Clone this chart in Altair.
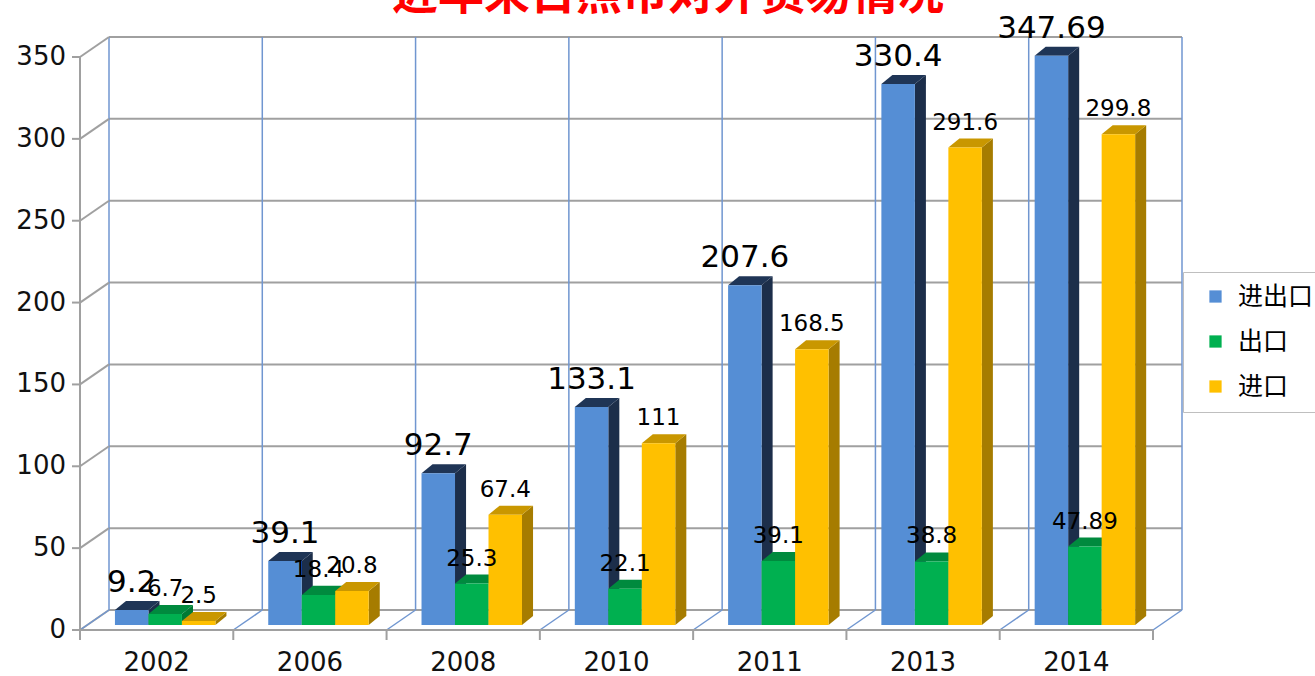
import altair as alt
import pandas as pd

# ---------------- data ----------------
years = ["2002", "2006", "2008", "2010", "2011", "2013", "2014"]
total = [9.2, 39.1, 92.7, 133.1, 207.6, 330.4, 347.69]      # 进出口
exports = [6.7, 18.4, 25.3, 22.1, 39.1, 38.8, 47.89]         # 出口
imports = [2.5, 20.8, 67.4, 111, 168.5, 291.6, 299.8]        # 进口
series_names = ["进出口", "出口", "进口"]
y_ticks = [0, 50, 100, 150, 200, 250, 300, 350]
title_text = "近年来日照市对外贸易情况"

# ---------------- style ----------------
front_colors = ["#558ed5", "#00b050", "#ffc000"]
top_colors = ["#1f3556", "#008a3e", "#c99700"]
side_colors = ["#1c2e4a", "#007a35", "#a67c00"]
GRID = "#a0a0a0"
BLUE_LINE = "#7096d0"
NUM_FONT = "DejaVu Sans"
CJK_FONT = "Noto Sans CJK SC"

N = len(years)
Y_MAX = 350
BAR_START = 0.228   # bar cluster start inside a category band (band units)
BAR_W = 0.2185      # bar width (band units)
DEPTH_X = 0.072     # 3D depth of bars, x (band units)
DEPTH_Y = 5.5       # 3D depth of bars, y (value units)
WALL_DX = 29        # wall depth in pixels
WALL_DY = -15
FRONT_DY = 5

xscale = alt.Scale(domain=[0, N], nice=False, zero=False)
yscale = alt.Scale(domain=[0, Y_MAX], nice=False, zero=False)

values_by_series = [total, exports, imports]

X = lambda f: alt.X(f, scale=xscale, axis=None)
Y = lambda f: alt.Y(f, scale=yscale, axis=None)

# ---------------- bar faces ----------------
front_rows, side_rows, top_rows, labels = [], [], [], []
g = 0
for i in range(N):
    for s in range(3):
        v = values_by_series[s][i]
        x0 = i + BAR_START + s * BAR_W
        x1 = x0 + BAR_W
        front_rows.append(dict(x0=x0, x1=x1, v=v, base=0, fill=front_colors[s]))
        for p, (x, y, y2) in enumerate([(x1, v, 0), (x1 + DEPTH_X, v + DEPTH_Y, DEPTH_Y)]):
            side_rows.append(dict(gid=f"g{g:04d}", pt=p, x=x, y=y, y2=y2, fill=side_colors[s]))
        for p, (x, y, y2) in enumerate([(x0, v, v), (x0 + DEPTH_X, v + DEPTH_Y, v),
                                        (x1, v + DEPTH_Y, v), (x1 + DEPTH_X, v + DEPTH_Y, v + DEPTH_Y)]):
            top_rows.append(dict(gid=f"g{g:04d}", pt=p, x=x, y=y, y2=y2, fill=top_colors[s]))
        g += 1
        labels.append(dict(x=(x0 + x1) / 2, y=v, t=f"{v:g}", fs=31 if s == 0 else 23))


def face_layer(rows):
    return alt.Chart(pd.DataFrame(rows)).mark_area(strokeWidth=0).encode(
        x=X("x:Q"),
        y=alt.Y("y:Q", scale=yscale, axis=None, stack=False),
        y2="y2:Q",
        fill=alt.Fill("fill:N", scale=None),
        detail="gid:N",
    )


sides = face_layer(side_rows)
tops = face_layer(top_rows)
fronts = alt.Chart(pd.DataFrame(front_rows)).mark_rect(strokeWidth=0).encode(
    x=X("x0:Q"), x2="x1:Q", y=Y("v:Q"), y2="base:Q",
    fill=alt.Fill("fill:N", scale=None),
)

value_labels = alt.Chart(pd.DataFrame(labels)).mark_text(
    font=NUM_FONT, color="black", align="center", baseline="alphabetic", yOffset=-18
).encode(
    x=X("x:Q"), y=Y("y:Q"), text="t:N",
    size=alt.Size("fs:Q", scale=None),
)

# ---------------- frame / walls ----------------
div_df = pd.DataFrame({"k": list(range(N + 1)), "zero": 0, "top": Y_MAX})
grid_df = pd.DataFrame({"v": y_ticks, "x0": 0, "x1": N})

back_grid = alt.Chart(grid_df).mark_rule(
    color=GRID, strokeWidth=2, xOffset=WALL_DX, x2Offset=WALL_DX, yOffset=WALL_DY
).encode(x=X("x0:Q"), x2="x1:Q", y=Y("v:Q"))

left_diag = alt.Chart(grid_df).mark_rule(
    color=GRID, strokeWidth=2, xOffset=0, x2Offset=WALL_DX, yOffset=FRONT_DY, y2Offset=WALL_DY
).encode(x=X("x0:Q"), x2="x0:Q", y=Y("v:Q"), y2="v:Q")

y_ticks_marks = alt.Chart(grid_df).mark_rule(
    color=GRID, strokeWidth=2, xOffset=-8, x2Offset=0, yOffset=FRONT_DY
).encode(x=X("x0:Q"), x2="x0:Q", y=Y("v:Q"))

back_vert = alt.Chart(div_df).mark_rule(
    color=BLUE_LINE, strokeWidth=1.5, xOffset=WALL_DX, yOffset=WALL_DY, y2Offset=WALL_DY
).encode(x=X("k:Q"), y=Y("zero:Q"), y2="top:Q")

floor_diag = alt.Chart(div_df).mark_rule(
    color=BLUE_LINE, strokeWidth=1.5, xOffset=0, x2Offset=WALL_DX, yOffset=FRONT_DY, y2Offset=WALL_DY
).encode(x=X("k:Q"), x2="k:Q", y=Y("zero:Q"), y2="zero:Q")

front_axis = alt.Chart(div_df.head(1)).mark_rule(
    color=GRID, strokeWidth=2, yOffset=FRONT_DY, y2Offset=FRONT_DY
).encode(x=X("zero:Q"), y=Y("zero:Q"), y2="top:Q")

front_floor = alt.Chart(grid_df.head(1)).mark_rule(
    color=GRID, strokeWidth=2, yOffset=FRONT_DY
).encode(x=X("x0:Q"), x2="x1:Q", y=Y("v:Q"))

x_tick_marks = alt.Chart(div_df).mark_rule(
    color=GRID, strokeWidth=2, yOffset=FRONT_DY, y2Offset=FRONT_DY + 10
).encode(x=X("k:Q"), y=Y("zero:Q"), y2="zero:Q")

y_labels = alt.Chart(grid_df).mark_text(
    font=NUM_FONT, fontSize=26, color="#111", align="right", baseline="middle",
    xOffset=-14, yOffset=FRONT_DY
).encode(x=X("x0:Q"), y=Y("v:Q"), text="v:Q")

xlab_df = pd.DataFrame({"year": years, "xc": [i + 0.5 for i in range(N)], "zero": 0})
x_labels = alt.Chart(xlab_df).mark_text(
    font=NUM_FONT, fontSize=26, color="#111", align="center", baseline="middle", yOffset=38
).encode(x=X("xc:Q"), y=Y("zero:Q"), text="year:N")

# ---------------- legend ----------------
leg_df = pd.DataFrame({"series": series_names, "x": 0, "y": 0})
legend_layer = alt.Chart(leg_df).mark_square(opacity=0, size=10).encode(
    x=X("x:Q"), y=Y("y:Q"),
    color=alt.Color(
        "series:N",
        scale=alt.Scale(domain=series_names, range=front_colors),
        sort=series_names,
        legend=alt.Legend(
            title=None, orient="none", legendX=1103, legendY=220,
            symbolType="square", symbolSize=150, symbolOpacity=1, symbolStrokeWidth=0,
            labelFont=CJK_FONT, labelFontSize=25, labelColor="black",
            rowPadding=19, padding=12, strokeColor="#bfbfbf", fillColor="white",
            symbolOffset=8, labelOffset=10, labelLimit=300,
        ),
    ),
)

# ---------------- title (partly cut at top, as in the reference) ----------------
title_df = pd.DataFrame({"t": [title_text]})
title_layer = alt.Chart(title_df).mark_text(
    font=CJK_FONT, fontSize=46, fontWeight="bold", color="#ff0000",
    align="center", baseline="alphabetic"
).encode(text="t:N", x=alt.value(588), y=alt.value(-43))

chart = alt.layer(
    back_grid, back_vert, left_diag, floor_diag, front_axis, y_ticks_marks,
    front_floor, x_tick_marks, sides, tops, fronts, value_labels, y_labels, x_labels,
    legend_layer, title_layer,
).properties(
    width=1073, height=573,
    autosize=alt.AutoSizeParams(type="none"),
    padding={"left": 80, "top": 52, "right": 162, "bottom": 51},
    background="white",
).configure_view(strokeWidth=0)

chart.save("out.html", embed_options={"renderer": "svg", "actions": False})
